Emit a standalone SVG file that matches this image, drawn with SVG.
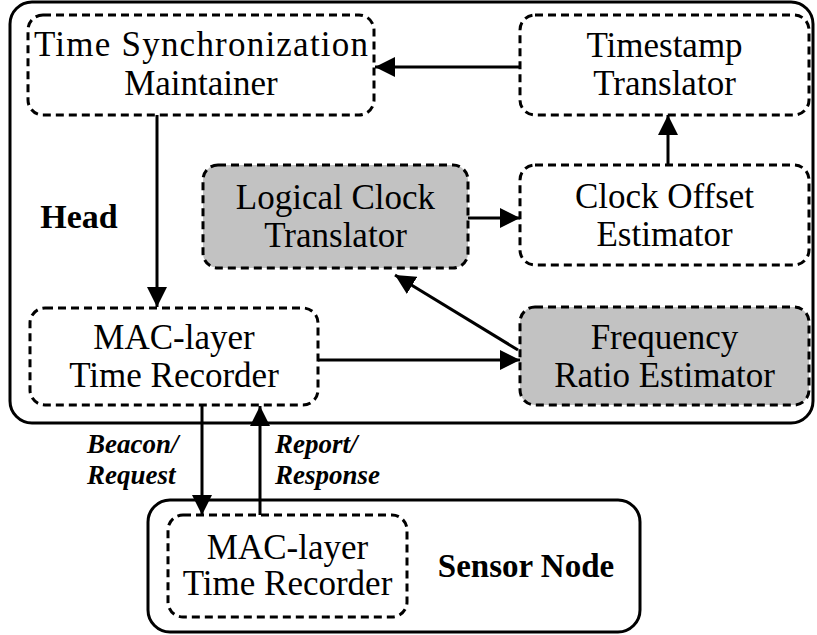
<svg xmlns="http://www.w3.org/2000/svg" width="817" height="635" viewBox="0 0 817 635">
<defs>
<style>
.outer{fill:none;stroke:#000;stroke-width:3}
.box{fill:#fff;stroke:#000;stroke-width:3;stroke-dasharray:8 5}
.gray{fill:#c2c2c2;stroke:#000;stroke-width:3;stroke-dasharray:8 5}
.t{font-family:"Liberation Serif","Times New Roman",serif;font-size:35px;fill:#000;text-anchor:middle}
.b{font-family:"Liberation Serif","Times New Roman",serif;font-size:34px;font-weight:bold;fill:#000;text-anchor:middle}
.l{font-family:"Liberation Serif","Times New Roman",serif;font-size:27px;font-weight:bold;font-style:italic;fill:#000}
.c{fill:none;stroke:#000;stroke-width:3}
</style>
<marker id="ah" markerUnits="userSpaceOnUse" markerWidth="20" markerHeight="20" viewBox="0 0 18 18" refX="18" refY="9" orient="auto">
<path d="M0,0 L18,9 L0,18 Z" fill="#000"/>
</marker>
</defs>
<rect x="0" y="0" width="817" height="635" fill="#fff"/>
<g id="head">
<rect class="outer" x="10" y="2" width="803" height="421" rx="22"/>
<text class="b" x="79" y="228">Head</text>
</g>
<g id="sensor-node">
<rect class="outer" x="148" y="500" width="492" height="132" rx="22"/>
<text class="b" x="526" y="577" style="font-size:33px">Sensor Node</text>
</g>
<g id="tsm">
<rect class="box" x="28" y="15" width="346" height="100" rx="15"/>
<text class="t" x="201" y="56" textLength="334" lengthAdjust="spacing">Time Synchronization</text>
<text class="t" x="201" y="95">Maintainer</text>
</g>
<g id="timestamp">
<rect class="box" x="520" y="15" width="289" height="100" rx="15"/>
<text class="t" x="664.5" y="57">Timestamp</text>
<text class="t" x="664.5" y="95">Translator</text>
</g>
<g id="logical-clock">
<rect class="gray" x="203" y="165" width="265" height="103" rx="15"/>
<text class="t" x="335.5" y="209">Logical Clock</text>
<text class="t" x="335.5" y="247">Translator</text>
</g>
<g id="clock-offset">
<rect class="box" x="520" y="165" width="289" height="100" rx="15"/>
<text class="t" x="664.5" y="208">Clock Offset</text>
<text class="t" x="664.5" y="246">Estimator</text>
</g>
<g id="mac-head">
<rect class="box" x="30" y="308" width="288" height="97" rx="15"/>
<text class="t" x="174" y="349">MAC-layer</text>
<text class="t" x="174" y="387">Time Recorder</text>
</g>
<g id="freq">
<rect class="gray" x="520" y="307" width="289" height="98" rx="15"/>
<text class="t" x="664.5" y="349">Frequency</text>
<text class="t" x="664.5" y="387">Ratio Estimator</text>
</g>
<g id="mac-sensor">
<rect class="box" x="168" y="515" width="239" height="102" rx="15"/>
<text class="t" x="287.5" y="559">MAC-layer</text>
<text class="t" x="287.5" y="595">Time Recorder</text>
</g>
<g id="connectors">
<line class="c" x1="520" y1="67" x2="375" y2="67" marker-end="url(#ah)"/>
<line class="c" x1="668" y1="165" x2="668" y2="115" marker-end="url(#ah)"/>
<line class="c" x1="468" y1="218" x2="520" y2="218" marker-end="url(#ah)"/>
<line class="c" x1="518" y1="350" x2="395" y2="275" marker-end="url(#ah)"/>
<line class="c" x1="318" y1="360" x2="520" y2="360" marker-end="url(#ah)"/>
<line class="c" x1="157" y1="115" x2="157" y2="307" marker-end="url(#ah)"/>
<line class="c" x1="202" y1="405" x2="202" y2="515" marker-end="url(#ah)"/>
<line class="c" x1="260" y1="515" x2="260" y2="406" marker-end="url(#ah)"/>
<text class="l" x="87" y="453">Beacon/</text>
<text class="l" x="87" y="484">Request</text>
<text class="l" x="275" y="453">Report/</text>
<text class="l" x="275" y="484">Response</text>
</g>
</svg>
